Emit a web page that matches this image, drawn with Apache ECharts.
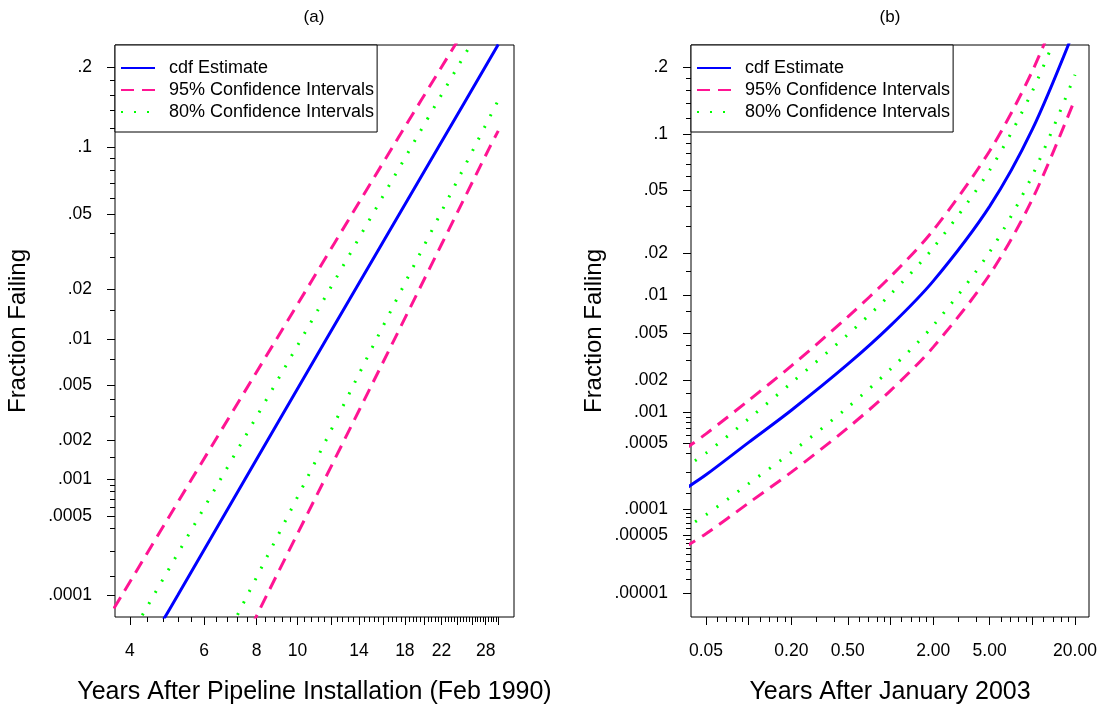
<!DOCTYPE html>
<html>
<head>
<meta charset="utf-8">
<script src="https://cdn.jsdelivr.net/npm/echarts@6/dist/echarts.min.js"></script>
<style>
html, body { margin: 0; padding: 0; background: #fff; }
#main { width: 1097px; height: 704px; }
</style>
</head>
<body>
<div id="main"></div>
<script>
// ---- data: panel (a), years vs fraction failing ----
var cdfA_years   = [4.70, 5.20, 7.50, 11.7, 21.6, 30.0];
var cdfA_prob    = [0.00005, 0.0001, 0.001, 0.01, 0.1, 0.236];
var ci95upA_years = [3.45, 3.83, 5.60, 8.91, 16.8, 24.4];
var ci95upA_prob  = [0.00005, 0.0001, 0.001, 0.01, 0.1, 0.25];
var ci80upA_years = [4.13, 4.56, 6.56, 10.2, 18.6, 26.5];
var ci80upA_prob  = [0.00005, 0.0001, 0.001, 0.01, 0.1, 0.25];
var ci80loA_years = [6.98, 7.61, 10.5, 15.4, 26.3, 30.0];
var ci80loA_prob  = [0.00005, 0.0001, 0.001, 0.01, 0.1, 0.153];
var ci95loA_years = [7.77, 8.46, 11.6, 17.0, 28.6, 30.0];
var ci95loA_prob  = [0.00005, 0.0001, 0.001, 0.01, 0.1, 0.117];

// ---- data: panel (b), years after Jan 2003 ----
var yearsB   = [0.035, 0.05, 0.1, 0.2, 0.5, 1, 2, 5, 10, 20];
var cdfB     = [1.64e-4, 2.36e-4, 5.1e-4, 1.05e-3, 2.75e-3, 5.78e-3, 0.0127, 0.0402, 0.106, 0.278];
var ci95upB  = [4.3e-4, 6.2e-4, 1.3e-3, 2.66e-3, 6.8e-3, 0.0137, 0.0284, 0.0826, 0.1927, 0.421];
var ci80upB  = [2.8e-4, 3.97e-4, 8.7e-4, 1.88e-3, 4.9e-3, 0.01015, 0.02175, 0.0651, 0.1589, 0.369];
var ci80loB  = [6.0e-5, 8.63e-5, 1.9e-4, 4.05e-4, 1.12e-3, 2.49e-3, 5.79e-3, 0.0204, 0.0608, 0.1862];
var ci95loB  = [3.61e-5, 5.22e-5, 1.17e-4, 2.52e-4, 7.1e-4, 1.6e-3, 3.85e-3, 0.01415, 0.0443, 0.147];

// ---- axes / ticks ----
var xRangeA = [3.686, 32.7];
var xRangeB = [0.0392, 25.1];
var yRangeA = [0.0000618, 0.235];
var yRangeB = [0.0000049, 0.2425];

var xLabelsA = ['4', '6', '8', '10', '14', '18', '22', '28'];
var xLabelsB = ['0.05', '0.20', '0.50', '2.00', '5.00', '20.00'];
var xLongB = [0.05, 0.1, 0.2, 0.5, 1, 2, 5, 10, 20];
var xShortB = [0.06, 0.07, 0.08, 0.09, 0.12, 0.14, 0.16, 0.18, 0.3, 0.4, 0.6, 0.7, 0.8, 0.9,
               1.2, 1.4, 1.6, 1.8, 3, 4, 6, 7, 8, 9, 12, 14, 16, 18];

var yLabelsA = ['.2', '.1', '.05', '.02', '.01', '.005', '.002', '.001', '.0005', '.0001'];
var yLabelsB = ['.2', '.1', '.05', '.02', '.01', '.005', '.002', '.001', '.0005', '.0001', '.00005', '.00001'];
var yShortA = [0.18, 0.16, 0.14, 0.12, 0.09, 0.08, 0.07, 0.06, 0.04, 0.03, 0.015, 0.0075,
               0.004, 0.003, 0.0015, 0.0009, 0.0008, 0.0007, 0.0006, 0.0004, 0.00025, 0.00015];
var yShortB = yShortA.concat([0.00009, 0.00008, 0.00007, 0.00006, 0.000045, 0.00004, 0.000035,
               0.00003, 0.000025, 0.00002, 0.000015]);

var FONT = 'Liberation Sans, Arial, Helvetica, sans-serif';
var PINK = '#ff1493';
var GREEN = '#00ff00';
var BLUE = '#0000ff';

// inverse normal cdf (lognormal probability paper)
function qnorm(p) {
	var a = [-3.969683028665376e+01, 2.209460984245205e+02, -2.759285104469687e+02, 1.383577518672690e+02, -3.066479806614716e+01, 2.506628277459239e+00];
	var b = [-5.447609879822406e+01, 1.615858368580409e+02, -1.556989798598866e+02, 6.680131188771972e+01, -1.328068155288572e+01];
	var c = [-7.784894002430293e-03, -3.223964580411365e-01, -2.400758277161838e+00, -2.549732539343734e+00, 4.374664141464968e+00, 2.938163982698783e+00];
	var d = [7.784695709041462e-03, 3.224671290700398e-01, 2.445134137142996e+00, 3.754408661907416e+00];
	var pl = 0.02425, q, r;
	if (p < pl) {
		q = Math.sqrt(-2 * Math.log(p));
		return (((((c[0]*q+c[1])*q+c[2])*q+c[3])*q+c[4])*q+c[5]) / ((((d[0]*q+d[1])*q+d[2])*q+d[3])*q+1);
	}
	if (p <= 1 - pl) {
		q = p - 0.5; r = q * q;
		return (((((a[0]*r+a[1])*r+a[2])*r+a[3])*r+a[4])*r+a[5])*q / (((((b[0]*r+b[1])*r+b[2])*r+b[3])*r+b[4])*r+1);
	}
	q = Math.sqrt(-2 * Math.log(1 - p));
	return -(((((c[0]*q+c[1])*q+c[2])*q+c[3])*q+c[4])*q+c[5]) / ((((d[0]*q+d[1])*q+d[2])*q+d[3])*q+1);
}
function lg(v) { return Math.log(v) / Math.LN10; }

function pairs(years, probs) {
	var out = [];
	for (var i = 0; i < years.length; i++) {
		out.push([lg(years[i]), qnorm(probs[i])]);
	}
	return out;
}

// label formatter: pick the text whose position is nearest
function nearestLabel(labels, toPos) {
	return function (v) {
		var best = '', bd = 1e9;
		for (var i = 0; i < labels.length; i++) {
			var d = Math.abs(toPos(parseFloat(labels[i])) - v);
			if (d < bd) { bd = d; best = labels[i]; }
		}
		return best;
	};
}

function xAxisPair(gi, range, longTicks, labels, shortTicks, name) {
	var base = {
		type: 'value', gridIndex: gi, position: 'bottom',
		min: lg(range[0]), max: lg(range[1]),
		axisLine: { show: false, onZero: false }, splitLine: { show: false }
	};
	var major = echarts.util.merge({
		name: name, nameLocation: 'middle', nameGap: 63,
		nameTextStyle: { fontSize: 25, color: '#000', fontFamily: FONT },
		axisTick: { show: true, length: 8, customValues: longTicks.map(lg), lineStyle: { color: '#000', width: 1 } },
		axisLabel: {
			show: true, margin: 25, fontSize: 17.5, color: '#000', fontFamily: FONT,
			customValues: labels.map(function (s) { return lg(parseFloat(s)); }),
			formatter: nearestLabel(labels, lg)
		}
	}, base, true);
	var minor = echarts.util.merge({
		axisTick: { show: true, length: 5, customValues: shortTicks.map(lg), lineStyle: { color: '#000', width: 1 } },
		axisLabel: { show: false }
	}, base, true);
	return [major, minor];
}

function yAxisPair(gi, range, labels, shortTicks) {
	var base = {
		type: 'value', gridIndex: gi, position: 'left',
		min: qnorm(range[0]), max: qnorm(range[1]),
		axisLine: { show: false, onZero: false }, splitLine: { show: false }
	};
	var major = echarts.util.merge({
		name: 'Fraction Failing', nameLocation: 'middle', nameGap: 85,
		nameTextStyle: { fontSize: 24, color: '#000', fontFamily: FONT },
		axisTick: { show: true, length: 8, customValues: labels.map(function (s) { return qnorm(parseFloat(s)); }), lineStyle: { color: '#000', width: 1 } },
		axisLabel: {
			show: true, margin: 23, fontSize: 17.5, color: '#000', fontFamily: FONT,
			customValues: labels.map(function (s) { return qnorm(parseFloat(s)); }),
			formatter: nearestLabel(labels, qnorm)
		}
	}, base, true);
	var minor = echarts.util.merge({
		axisTick: { show: true, length: 5, customValues: shortTicks.map(qnorm), lineStyle: { color: '#000', width: 1 } },
		axisLabel: { show: false }
	}, base, true);
	return [major, minor];
}

var xLongA = [];
var xShortA = [];
for (var k = 0; k <= 65; k++) {
	var t = Math.round((4 + 0.4 * k) * 10) / 10;
	if (Math.abs(t / 2 - Math.round(t / 2)) < 1e-6) xLongA.push(t); else xShortA.push(t);
}

function lineSeries(name, xi, yi, data, kind) {
	var ls = { color: BLUE, width: 3, type: 'solid' };
	if (kind === 'dash') ls = { color: PINK, width: 3, type: [13, 8] };
	if (kind === 'dot') ls = { color: GREEN, width: 3, type: [2, 11] };
	return {
		name: name, type: 'line', xAxisIndex: xi, yAxisIndex: yi,
		data: data, symbol: 'none', smooth: 0.3, clip: true,
		lineStyle: ls, itemStyle: { color: ls.color }, z: 3
	};
}

var N1 = 'cdf Estimate', N2 = '95% Confidence Intervals', N3 = '80% Confidence Intervals';

var chart = echarts.init(document.getElementById('main'));
var legendBase = {
	orient: 'vertical', top: 45, data: [N1, N2, N3],
	itemWidth: 34, itemHeight: 14, itemGap: 4,
	padding: [14, 3, 11, 5], borderColor: '#000', borderWidth: 1,
	backgroundColor: '#fff', selectedMode: false,
	itemStyle: { opacity: 0 },
	textStyle: { fontSize: 18, lineHeight: 18, color: '#000', fontFamily: FONT, padding: [0, 0, 0, 9] }
};

var gridBase = { top: 45, height: 572, show: true, borderColor: '#000', borderWidth: 1,
	backgroundColor: 'transparent', outerBoundsMode: 'none', containLabel: false };

var option = {
	animation: false,
	backgroundColor: '#fff',
	grid: [
		echarts.util.merge({ left: 115, width: 399 }, gridBase, true),
		echarts.util.merge({ left: 691, width: 398 }, gridBase, true)
	],
	xAxis: xAxisPair(0, xRangeA, xLongA, xLabelsA, xShortA, 'Years After Pipeline Installation (Feb 1990)')
		.concat(xAxisPair(1, xRangeB, xLongB, xLabelsB, xShortB, 'Years After January 2003')),
	yAxis: yAxisPair(0, yRangeA, yLabelsA, yShortA).concat(yAxisPair(1, yRangeB, yLabelsB, yShortB)),
	legend: [
		echarts.util.merge({ left: 115 }, legendBase, true),
		echarts.util.merge({ left: 691 }, legendBase, true)
	],
	graphic: [
		{ type: 'text', x: 314, y: 9, style: { text: '(a)', fill: '#000', font: '17px ' + FONT, textAlign: 'center' } },
		{ type: 'text', x: 890, y: 9, style: { text: '(b)', fill: '#000', font: '17px ' + FONT, textAlign: 'center' } }
	],
	series: [
		lineSeries(N1, 0, 0, pairs(cdfA_years, cdfA_prob), 'solid'),
		lineSeries(N2, 0, 0, pairs(ci95upA_years, ci95upA_prob), 'dash'),
		lineSeries(N3, 0, 0, pairs(ci80upA_years, ci80upA_prob), 'dot'),
		lineSeries(N3, 0, 0, pairs(ci80loA_years, ci80loA_prob), 'dot'),
		lineSeries(N2, 0, 0, pairs(ci95loA_years, ci95loA_prob), 'dash'),
		lineSeries(N1, 2, 2, pairs(yearsB, cdfB), 'solid'),
		lineSeries(N2, 2, 2, pairs(yearsB, ci95upB), 'dash'),
		lineSeries(N3, 2, 2, pairs(yearsB, ci80upB), 'dot'),
		lineSeries(N3, 2, 2, pairs(yearsB, ci80loB), 'dot'),
		lineSeries(N2, 2, 2, pairs(yearsB, ci95loB), 'dash')
	]
};
chart.setOption(option);
</script>
</body>
</html>
